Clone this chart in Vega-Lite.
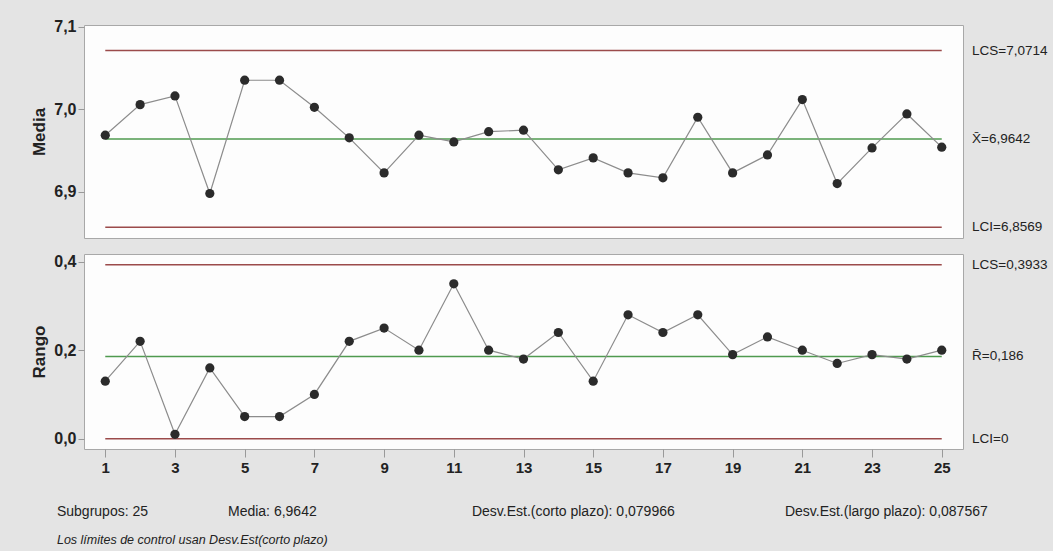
{
  "$schema": "https://vega.github.io/schema/vega-lite/v6.json",
  "background": "#e4e4e4",
  "padding": {"left": 30, "top": 18, "right": 5, "bottom": 5},
  "config": {
    "locale": {"number": {"decimal": ",", "thousands": ".", "grouping": [3], "currency": ["", ""]}},
    "view": {"fill": "#fdfdfd", "stroke": "#a8a8a8", "strokeWidth": 1},
    "font": "Liberation Sans",
    "concat": {"spacing": 14},
    "axis": {
      "grid": false, "domain": false, "tickColor": "#999999", "tickWidth": 1,
      "labelFont": "Liberation Sans", "labelFontWeight": "bold", "labelFontSize": 16, "labelColor": "#222222",
      "titleFont": "Liberation Sans", "titleFontWeight": "bold", "titleFontSize": 17, "titleColor": "#222222"
    }
  },
  "datasets": {
    "sub": [
      {"s": 1, "media": 6.9687, "rango": 0.13},
      {"s": 2, "media": 7.0058, "rango": 0.22},
      {"s": 3, "media": 7.0164, "rango": 0.01},
      {"s": 4, "media": 6.898, "rango": 0.16},
      {"s": 5, "media": 7.0354, "rango": 0.05},
      {"s": 6, "media": 7.0354, "rango": 0.05},
      {"s": 7, "media": 7.0026, "rango": 0.10},
      {"s": 8, "media": 6.9655, "rango": 0.22},
      {"s": 9, "media": 6.923, "rango": 0.25},
      {"s": 10, "media": 6.9687, "rango": 0.20},
      {"s": 11, "media": 6.9606, "rango": 0.35},
      {"s": 12, "media": 6.973, "rango": 0.20},
      {"s": 13, "media": 6.9748, "rango": 0.18},
      {"s": 14, "media": 6.9267, "rango": 0.24},
      {"s": 15, "media": 6.9412, "rango": 0.13},
      {"s": 16, "media": 6.923, "rango": 0.28},
      {"s": 17, "media": 6.917, "rango": 0.24},
      {"s": 18, "media": 6.9905, "rango": 0.28},
      {"s": 19, "media": 6.923, "rango": 0.19},
      {"s": 20, "media": 6.9448, "rango": 0.23},
      {"s": 21, "media": 7.0119, "rango": 0.20},
      {"s": 22, "media": 6.910, "rango": 0.17},
      {"s": 23, "media": 6.9533, "rango": 0.19},
      {"s": 24, "media": 6.9945, "rango": 0.18},
      {"s": 25, "media": 6.9542, "rango": 0.20}
    ],
    "limMedia": [
      {"tipo": "limite", "valor": 7.0714, "etiqueta": "LCS=7,0714"},
      {"tipo": "centro", "valor": 6.9642, "etiqueta": "X̄=6,9642"},
      {"tipo": "limite", "valor": 6.8569, "etiqueta": "LCI=6,8569"}
    ],
    "limRango": [
      {"tipo": "limite", "valor": 0.3933, "etiqueta": "LCS=0,3933"},
      {"tipo": "centro", "valor": 0.186, "etiqueta": "R̄=0,186"},
      {"tipo": "limite", "valor": 0, "etiqueta": "LCI=0"}
    ],
    "notas": [
      {"id": "a", "texto": "Subgrupos: 25"},
      {"id": "b", "texto": "Media: 6,9642"},
      {"id": "c", "texto": "Desv.Est.(corto plazo): 0,079966"},
      {"id": "d", "texto": "Desv.Est.(largo plazo): 0,087567"},
      {"id": "e", "texto": "Los límites de control usan Desv.Est(corto plazo)"}
    ]
  },
  "vconcat": [
    {
      "width": 879,
      "height": 213,
      "layer": [
        {
          "data": {"name": "limMedia"},
          "mark": {"type": "rule", "strokeWidth": 1.5},
          "encoding": {
            "x": {"datum": 1, "type": "quantitative", "scale": {"domain": [0.39, 25.61], "nice": false, "zero": false}, "axis": null},
            "x2": {"datum": 25},
            "y": {"field": "valor", "type": "quantitative", "scale": {"domain": [6.844, 7.1024], "nice": false, "zero": false},
                  "axis": {"title": "Media", "values": [6.9, 7.0, 7.1], "format": ".1f", "tickSize": 6, "labelPadding": 2, "titlePadding": 5}},
            "color": {"field": "tipo", "type": "nominal", "scale": {"domain": ["limite", "centro"], "range": ["#9b4b4b", "#4f9a4f"]}, "legend": null}
          }
        },
        {
          "data": {"name": "limMedia"},
          "mark": {"type": "text", "align": "left", "baseline": "middle", "dx": 9, "font": "Liberation Sans", "fontSize": 13.5, "color": "#222222"},
          "encoding": {
            "x": {"datum": 25.61, "type": "quantitative"},
            "y": {"field": "valor", "type": "quantitative"},
            "text": {"field": "etiqueta"}
          }
        },
        {
          "data": {"name": "sub"},
          "mark": {"type": "line", "color": "#8c8c8c", "strokeWidth": 1.2},
          "encoding": {
            "x": {"field": "s", "type": "quantitative"},
            "y": {"field": "media", "type": "quantitative"}
          }
        },
        {
          "data": {"name": "sub"},
          "mark": {"type": "point", "filled": true, "opacity": 1, "color": "#2b2b2b", "size": 85},
          "encoding": {
            "x": {"field": "s", "type": "quantitative"},
            "y": {"field": "media", "type": "quantitative"}
          }
        }
      ]
    },
    {
      "width": 879,
      "height": 195,
      "layer": [
        {
          "data": {"name": "limRango"},
          "mark": {"type": "rule", "strokeWidth": 1.5},
          "encoding": {
            "x": {"datum": 1, "type": "quantitative", "scale": {"domain": [0.39, 25.61], "nice": false, "zero": false},
                  "axis": {"title": null, "values": [1, 3, 5, 7, 9, 11, 13, 15, 17, 19, 21, 23, 25], "format": "d", "tickSize": 8, "labelPadding": 3, "labelFontSize": 15}},
            "x2": {"datum": 25},
            "y": {"field": "valor", "type": "quantitative", "scale": {"domain": [-0.0233, 0.4174], "nice": false, "zero": false},
                  "axis": {"title": "Rango", "values": [0, 0.2, 0.4], "format": ".1f", "tickSize": 6, "labelPadding": 2, "titlePadding": 5}},
            "color": {"field": "tipo", "type": "nominal", "scale": {"domain": ["limite", "centro"], "range": ["#9b4b4b", "#4f9a4f"]}, "legend": null}
          }
        },
        {
          "data": {"name": "limRango"},
          "mark": {"type": "text", "align": "left", "baseline": "middle", "dx": 9, "font": "Liberation Sans", "fontSize": 13.5, "color": "#222222"},
          "encoding": {
            "x": {"datum": 25.61, "type": "quantitative"},
            "y": {"field": "valor", "type": "quantitative"},
            "text": {"field": "etiqueta"}
          }
        },
        {
          "data": {"name": "sub"},
          "mark": {"type": "line", "color": "#8c8c8c", "strokeWidth": 1.2},
          "encoding": {
            "x": {"field": "s", "type": "quantitative"},
            "y": {"field": "rango", "type": "quantitative"}
          }
        },
        {
          "data": {"name": "sub"},
          "mark": {"type": "point", "filled": true, "opacity": 1, "color": "#2b2b2b", "size": 85},
          "encoding": {
            "x": {"field": "s", "type": "quantitative"},
            "y": {"field": "rango", "type": "quantitative"}
          }
        },
        {
          "data": {"name": "notas"},
          "transform": [{"filter": "datum.id === 'a'"}],
          "mark": {"type": "text", "align": "left", "baseline": "middle", "font": "Liberation Sans", "fontSize": 14, "color": "#222222"},
          "encoding": {"x": {"datum": -0.386, "type": "quantitative"}, "y": {"datum": -0.1657, "type": "quantitative"}, "text": {"field": "texto"}}
        },
        {
          "data": {"name": "notas"},
          "transform": [{"filter": "datum.id === 'b'"}],
          "mark": {"type": "text", "align": "left", "baseline": "middle", "font": "Liberation Sans", "fontSize": 14, "color": "#222222"},
          "encoding": {"x": {"datum": 4.521, "type": "quantitative"}, "y": {"datum": -0.1657, "type": "quantitative"}, "text": {"field": "texto"}}
        },
        {
          "data": {"name": "notas"},
          "transform": [{"filter": "datum.id === 'c'"}],
          "mark": {"type": "text", "align": "left", "baseline": "middle", "font": "Liberation Sans", "fontSize": 14, "color": "#222222"},
          "encoding": {"x": {"datum": 11.52, "type": "quantitative"}, "y": {"datum": -0.1657, "type": "quantitative"}, "text": {"field": "texto"}}
        },
        {
          "data": {"name": "notas"},
          "transform": [{"filter": "datum.id === 'd'"}],
          "mark": {"type": "text", "align": "left", "baseline": "middle", "font": "Liberation Sans", "fontSize": 14, "color": "#222222"},
          "encoding": {"x": {"datum": 20.5, "type": "quantitative"}, "y": {"datum": -0.1657, "type": "quantitative"}, "text": {"field": "texto"}}
        },
        {
          "data": {"name": "notas"},
          "transform": [{"filter": "datum.id === 'e'"}],
          "mark": {"type": "text", "align": "left", "baseline": "middle", "font": "Liberation Sans", "fontSize": 12.5, "fontStyle": "italic", "color": "#222222"},
          "encoding": {"x": {"datum": -0.386, "type": "quantitative"}, "y": {"datum": -0.2289, "type": "quantitative"}, "text": {"field": "texto"}}
        }
      ]
    }
  ]
}
